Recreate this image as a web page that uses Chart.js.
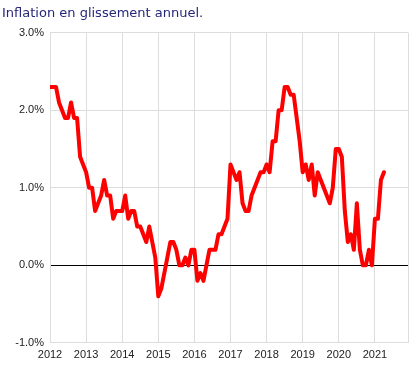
<!DOCTYPE html>
<html>
<head>
<meta charset="utf-8">
<script src="https://cdn.jsdelivr.net/npm/chart.js@4"></script>
<style>
  body { margin: 0; background: #fff; }
</style>
</head>
<body>
<canvas id="myChart" width="415" height="367"></canvas>
<script>
const startYear = 2012;
const endX = 2021 + 11 / 12;
const yearTicks = [2012, 2013, 2014, 2015, 2016, 2017, 2018, 2019, 2020, 2021];
const percentTicks = [-1, 0, 1, 2, 3];

// monthly values, Jan 2012 -> Apr 2021
const inflation = [
    2.3, 2.3, 2.3, 2.1, 2.0, 1.9, 1.9, 2.1, 1.9, 1.9, 1.4, 1.3,
    1.2, 1.0, 1.0, 0.7, 0.8, 0.9, 1.1, 0.9, 0.9, 0.6, 0.7, 0.7,
    0.7, 0.9, 0.6, 0.7, 0.7, 0.5, 0.5, 0.4, 0.3, 0.5, 0.3, 0.1,
    -0.4, -0.3, -0.1, 0.1, 0.3, 0.3, 0.2, 0.0, 0.0, 0.1, 0.0, 0.2,
    0.2, -0.2, -0.1, -0.2, 0.0, 0.2, 0.2, 0.2, 0.4, 0.4, 0.5, 0.6,
    1.3, 1.2, 1.1, 1.2, 0.8, 0.7, 0.7, 0.9, 1.0, 1.1, 1.2, 1.2,
    1.3, 1.2, 1.6, 1.6, 2.0, 2.0, 2.3, 2.3, 2.2, 2.2, 1.9, 1.6,
    1.2, 1.3, 1.1, 1.3, 0.9, 1.2, 1.1, 1.0, 0.9, 0.8, 1.0, 1.5,
    1.5, 1.4, 0.7, 0.3, 0.4, 0.2, 0.8, 0.2, 0.0, 0.0, 0.2, 0.0,
    0.6, 0.6, 1.1, 1.2
];

const points = inflation.map((v, i) => ({ x: startYear + i / 12, y: v }));

const tickFont = { family: 'Liberation Sans, Arial, sans-serif', size: 11 };

const config = {
    type: 'line',
    data: {
        datasets: [{
            label: 'Inflation',
            data: points,
            borderColor: '#ff0000',
            borderWidth: 4,
            pointRadius: 0,
            tension: 0,
            borderJoinStyle: 'round',
            borderCapStyle: 'round'
        }]
    },
    options: {
        responsive: false,
        animation: false,
        devicePixelRatio: 1,
        layout: { padding: { left: 2, right: 7, bottom: 0 } },
        plugins: {
            legend: { display: false },
            tooltip: { enabled: false },
            title: {
                display: true,
                text: 'Inflation en glissement annuel.',
                align: 'start',
                color: '#26267a',
                font: { family: 'DejaVu Sans', size: 13, weight: 'normal' },
                padding: { top: 6, bottom: 11 }
            }
        },
        scales: {
            x: {
                type: 'linear',
                min: startYear,
                max: endX,
                afterBuildTicks: axis => {
                    axis.ticks = yearTicks.concat([endX]).map(v => ({ value: v }));
                },
                ticks: {
                    autoSkip: false,
                    maxRotation: 0,
                    padding: 6,
                    color: '#222',
                    font: { family: 'Liberation Sans, Arial, sans-serif', size: 11, lineHeight: 1.1 },
                    callback: v => Number.isInteger(v) ? String(v) : ''
                },
                grid: { color: '#dddddd', drawTicks: false },
                border: { color: '#dddddd' }
            },
            y: {
                min: -1,
                max: 3,
                afterBuildTicks: axis => {
                    axis.ticks = percentTicks.map(v => ({ value: v }));
                },
                afterFit: axis => { axis.width = 48; },
                ticks: {
                    padding: 6,
                    color: '#222',
                    font: tickFont,
                    callback: v => v.toFixed(1) + '%'
                },
                grid: {
                    color: ctx => ctx.tick && ctx.tick.value === 0 ? '#000000' : '#dddddd',
                    drawTicks: false
                },
                border: { color: '#dddddd' }
            }
        }
    }
};

const myChart = new Chart(document.getElementById('myChart'), config);
</script>
</body>
</html>
